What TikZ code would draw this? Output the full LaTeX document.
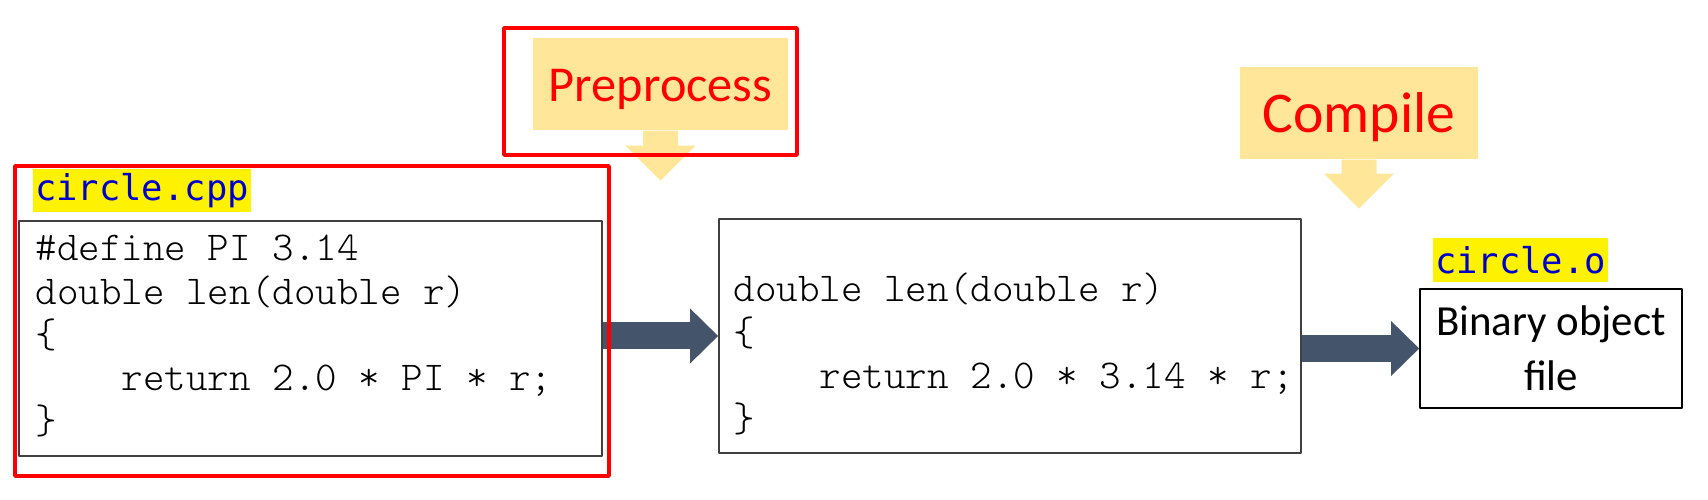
\documentclass[tikz,border=0pt]{standalone}
\usepackage{fontspec}
\setmainfont{Carlito}
\setmonofont{Latin Modern Mono Light}
\newfontfamily\labelfont{DejaVu Sans Mono}
\usetikzlibrary{arrows.meta}

\definecolor{callfill}{RGB}{255,230,153}
\definecolor{arrowgray}{RGB}{68,84,106}
\definecolor{labelblue}{RGB}{0,0,204}

\tikzset{
  codebox/.style={draw=black!75, line width=0.5pt, inner sep=0pt},
  codetext/.style={font=\ttfamily\fontsize{11.67}{12.3}\selectfont, text width=5.7cm, align=left, inner sep=0pt},
  filelabel/.style={fill=yellow, text=labelblue, font=\labelfont\fontsize{10.1}{12}\selectfont, inner sep=0pt},
  callbox/.style={fill=callfill, text=red, inner sep=0pt, text depth=0pt},
  fatarrow/.style={draw=arrowgray, line width=0.27cm, -{Triangle[length=0.28cm, width=0.55cm, line width=0pt]}},
  redframe/.style={draw=red, line width=1pt}
}

\begin{document}
\begin{tikzpicture}[line join=round]
  \useasboundingbox (0,0) rectangle (17.08,5);

  % riquadri
  \node[codebox, minimum width=5.83cm, minimum height=2.35cm] (leftcode) at (3.105,1.615) {};
  \node[codebox, minimum width=5.82cm, minimum height=2.34cm] (midcode) at (10.10,1.64) {};
  \node[codebox, draw=black, minimum width=2.62cm, minimum height=1.19cm, align=center,
        font=\fontsize{12.2}{15.6}\selectfont] (binfile) at (15.51,1.515) {Binary object\\file};

  % codice
  \node[codetext, anchor=base west] (leftsrc) at (0.35,2.39)
    {\spaceskip=0pt\xspaceskip=0pt\#define PI 3.14\\double len(double r)\\\{\\\phantom{0000}return 2.0 * PI * r;\\\}};
  \node[codetext, anchor=base west] (midsrc) at (7.33,1.98)
    {\spaceskip=0pt\xspaceskip=0pt double len(double r)\\\{\\\phantom{0000}return 2.0 * 3.14 * r;\\\}};

  % nomi dei file
  \node[filelabel, minimum width=2.18cm, minimum height=0.43cm] (cpplabel) at (1.42,3.095) {circle.cpp};
  \node[filelabel, minimum width=1.75cm, minimum height=0.44cm] (objlabel) at (15.205,2.40) {circle.o};

  % frecce
  \draw[fatarrow] (leftcode.east |- midcode.west) -- (midcode.west);
  \draw[fatarrow] (midcode.east |- binfile.west) -- (binfile.west);

  % fasi
  \node[callbox, minimum width=2.55cm, minimum height=0.92cm, font=\fontsize{14.3}{17}\selectfont,
        text height=0.36cm] (pre) at (6.605,4.16) {Preprocess};
  \fill[callfill] ([xshift=-0.175cm]pre.south) -- ++(0,-0.15) -- ++(-0.175,0) -- ++(0.35,-0.35)
    -- ++(0.35,0.35) -- ++(-0.175,0) -- ++(0,0.15) -- cycle;
  \node[callbox, minimum width=2.38cm, minimum height=0.92cm, font=\fontsize{16.4}{19}\selectfont] (comp) at (13.59,3.87) {Compile};
  \fill[callfill] ([xshift=-0.175cm]comp.south) -- ++(0,-0.14) -- ++(-0.175,0) -- ++(0.35,-0.35)
    -- ++(0.35,0.35) -- ++(-0.175,0) -- ++(0,0.14) -- cycle;

  % evidenziazione
  \draw[redframe] (0.15,0.24) rectangle (6.09,3.34);
  \draw[redframe] (5.04,3.45) rectangle (7.97,4.72);
\end{tikzpicture}
\end{document}
